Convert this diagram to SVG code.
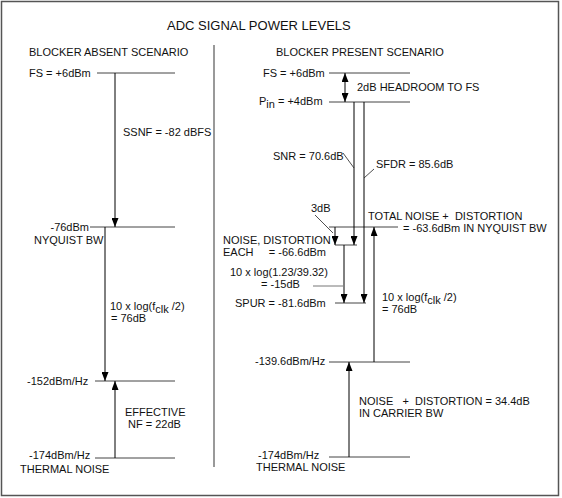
<svg xmlns="http://www.w3.org/2000/svg" width="562" height="498" viewBox="0 0 562 498">
<style>
text{font-family:"Liberation Sans",Arial,sans-serif;font-size:11px;fill:#111}
.title{font-size:13px}
.lvl{stroke:#444;stroke-width:1;fill:none}
.arr{stroke:#000;stroke-width:1;fill:none}
.ldr{stroke:#222;stroke-width:0.8;fill:none}
.gl{stroke:#777;stroke-width:1;fill:none}
</style>
<defs>
<marker id="ah" markerUnits="userSpaceOnUse" markerWidth="9" markerHeight="7" refX="9" refY="3.5" orient="auto-start-reverse" viewBox="0 0 9 7">
<path d="M0,0 L9,3.5 L0,7 z" fill="#000"/>
</marker>
</defs>
<rect x="1.5" y="1.5" width="557" height="494" fill="#fff" stroke="#555" stroke-width="1.5"/>
<text class="title" x="167" y="30">ADC SIGNAL POWER LEVELS</text>
<line x1="214" y1="45" x2="214" y2="467" stroke="#777" stroke-width="1.5"/>

<g id="left-panel">
<text x="29" y="56">BLOCKER ABSENT SCENARIO</text>
<g id="l-fs"><text x="29" y="77">FS = +6dBm</text><line class="lvl" x1="97" y1="73" x2="175" y2="73"/></g>
<g id="l-nyq"><text x="89" y="231" text-anchor="end">-76dBm</text><text x="34" y="244">NYQUIST BW</text><line class="lvl" x1="90" y1="227" x2="175" y2="227"/></g>
<g id="l-152"><text x="27" y="385">-152dBm/Hz</text><line class="lvl" x1="95" y1="381" x2="175" y2="381"/></g>
<g id="l-174"><text x="29" y="459">-174dBm/Hz</text><text x="20" y="473">THERMAL NOISE</text><line class="lvl" x1="95" y1="458" x2="175" y2="458"/></g>
<text x="123" y="136">SSNF = -82 dBFS</text>
<text x="110" y="310">10 x log(f<tspan dy="3">clk</tspan><tspan dy="-3"> /2)</tspan></text>
<text x="111" y="322">= 76dB</text>
<text x="125" y="416">EFFECTIVE</text>
<text x="128" y="428">NF = 22dB</text>
</g>

<g id="right-panel">
<text x="276" y="56">BLOCKER PRESENT SCENARIO</text>
<g id="r-fs"><text x="263" y="77">FS = +6dBm</text><line class="lvl" x1="329" y1="73" x2="410" y2="73"/></g>
<g id="r-pin"><text x="259" y="105">P<tspan dy="3">in</tspan><tspan dy="-3"> = +4dBm</tspan></text><line class="lvl" x1="329" y1="102" x2="410" y2="102"/></g>
<text x="357" y="91">2dB HEADROOM TO FS</text>
<text x="273" y="160">SNR = 70.6dB</text>
<text x="376" y="168">SFDR = 85.6dB</text>
<text x="311" y="212">3dB</text>
<g id="r-total"><line class="lvl" x1="329" y1="227" x2="398" y2="227"/>
<text x="368" y="220" xml:space="preserve">TOTAL NOISE +  DISTORTION</text>
<text x="403" y="232">= -63.6dBm IN NYQUIST BW</text></g>
<g id="r-each"><line class="lvl" x1="335" y1="245" x2="357" y2="245"/>
<text x="223" y="244">NOISE, DISTORTION</text>
<text x="223" y="256">EACH</text><text x="326" y="256" text-anchor="end">= -66.6dBm</text></g>
<text x="230" y="276">10 x log(1.23/39.32)</text>
<text x="261" y="288">= -15dB</text>
<g id="r-spur"><line class="lvl" x1="335" y1="303" x2="366" y2="303"/>
<text x="235" y="307">SPUR = -81.6dBm</text></g>
<text x="382" y="301">10 x log(f<tspan dy="3">clk</tspan><tspan dy="-3"> /2)</tspan></text>
<text x="382" y="313">= 76dB</text>
<g id="r-139"><text x="255" y="365">-139.6dBm/Hz</text><line class="lvl" x1="329" y1="362" x2="410" y2="362"/></g>
<text x="359" y="405" xml:space="preserve">NOISE   +  DISTORTION = 34.4dB</text>
<text x="359" y="417">IN CARRIER BW</text>
<g id="r-174"><text x="258" y="459">-174dBm/Hz</text><text x="256" y="471">THERMAL NOISE</text><line class="lvl" x1="329" y1="457" x2="410" y2="457"/></g>
</g>

<g id="connectors">
<line class="arr" x1="115" y1="73" x2="115" y2="227" marker-end="url(#ah)"/>
<line class="arr" x1="105" y1="227" x2="105" y2="381" marker-end="url(#ah)"/>
<line class="arr" x1="115" y1="458" x2="115" y2="381" marker-end="url(#ah)"/>
<line class="arr" x1="345" y1="73" x2="345" y2="102" marker-start="url(#ah)" marker-end="url(#ah)"/>
<line class="arr" x1="354" y1="102" x2="354" y2="245" marker-end="url(#ah)"/>
<line class="arr" x1="364" y1="102" x2="364" y2="303" marker-end="url(#ah)"/>
<line class="arr" x1="335" y1="227" x2="335" y2="245" marker-end="url(#ah)"/>
<line class="arr" x1="344" y1="245" x2="344" y2="303" marker-end="url(#ah)"/>
<line class="arr" x1="374" y1="362" x2="374" y2="227" marker-end="url(#ah)"/>
<line class="arr" x1="349" y1="457" x2="349" y2="362" marker-end="url(#ah)"/>
<line class="ldr" x1="343" y1="153" x2="354" y2="168"/>
<line class="ldr" x1="364" y1="178" x2="374" y2="169"/>
<line class="ldr" x1="315" y1="215" x2="333" y2="233"/>
<line class="gl" x1="313" y1="286" x2="343" y2="286"/>
</g>
</svg>
